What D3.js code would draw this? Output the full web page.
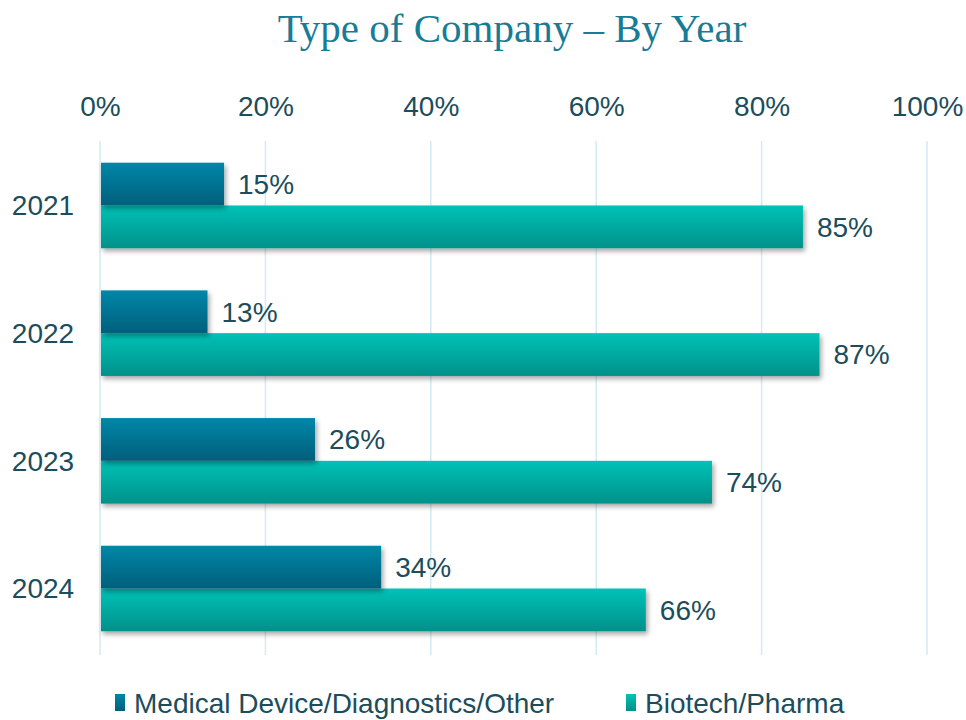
<!DOCTYPE html>
<html>
<head>
<meta charset="utf-8">
<script src="https://cdn.jsdelivr.net/npm/d3@7"></script>
<style>
  body { margin: 0; background: #fff; }
  text { font-family: "Liberation Sans", Arial, sans-serif; fill: #1b4d5c; }
</style>
</head>
<body>
<div class="chart"></div>
<script>
// data
const years = ['2021', '2022', '2023', '2024'];
const seriesNames = ['Medical Device/Diagnostics/Other', 'Biotech/Pharma'];
const medical = [15, 13, 26, 34];
const biotech = [85, 87, 74, 66];
const xTicks = [0, 20, 40, 60, 80, 100];

const width = 966;
const height = 720;
const margin = { top: 141, right: 39, bottom: 67, left: 100 };

const svg = d3.select('.chart').append('svg')
  .attr('width', width).attr('height', height);

const defs = svg.append('defs');
function grad(id, top, bottom) {
  const g = defs.append('linearGradient').attr('id', id)
    .attr('x1', 0).attr('y1', 0).attr('x2', 0).attr('y2', 1);
  g.append('stop').attr('offset', '0%').attr('stop-color', top);
  g.append('stop').attr('offset', '100%').attr('stop-color', bottom);
}
grad('gMed', '#0087a8', '#005f7b');
grad('gBio', '#00c2b6', '#00918a');
const shadow = defs.append('filter').attr('id', 'shadow')
  .attr('x', '-5%').attr('y', '-20%').attr('width', '115%').attr('height', '150%');
shadow.append('feDropShadow').attr('dx', 2).attr('dy', 3).attr('stdDeviation', 2.5)
  .attr('flood-color', '#000').attr('flood-opacity', 0.35);

const x = d3.scaleLinear().domain([0, 100]).range([margin.left, width - margin.right]);
const y = d3.scaleBand().domain(years)
  .range([margin.top, height - margin.bottom])
  .paddingInner(0.33).paddingOuter(0.17);
const sub = d3.scaleBand().domain(seriesNames).range([0, y.bandwidth()]);

// title
svg.append('text')
  .attr('x', 512).attr('y', 42)
  .attr('text-anchor', 'middle')
  .style('font-family', '"Liberation Serif", "Times New Roman", serif')
  .style('font-size', '41px')
  .style('fill', '#177c96')
  .text('Type of Company – By Year');

// gridlines
svg.append('g').selectAll('line').data(xTicks).enter().append('line')
  .attr('x1', d => x(d)).attr('x2', d => x(d))
  .attr('y1', margin.top).attr('y2', height - margin.bottom + 2)
  .attr('stroke', '#d3ebf4').attr('stroke-width', 1.5);

// top axis
const xAxis = d3.axisTop(x).tickValues(xTicks).tickFormat(d => d + '%').tickSize(0).tickPadding(0);
const xAxisDraw = svg.append('g').attr('transform', 'translate(0,116)').call(xAxis);
xAxisDraw.select('.domain').remove();
xAxisDraw.selectAll('text').style('font-size', '28px').attr('dy', 0);

// left axis
const yAxis = d3.axisLeft(y).tickSize(0).tickPadding(0);
const yAxisDraw = svg.append('g').attr('transform', 'translate(43,0)').call(yAxis);
yAxisDraw.select('.domain').remove();
yAxisDraw.selectAll('text').style('font-size', '28px').attr('text-anchor', 'middle').attr('dy', '0.35em');

const rows = [
  { name: seriesNames[0], values: medical, fill: 'url(#gMed)' },
  { name: seriesNames[1], values: biotech, fill: 'url(#gBio)' }
];

// biotech drawn first so the medical shadow sits on top of it
[rows[1], rows[0]].forEach(s => {
  const g = svg.append('g');
  g.selectAll('rect').data(s.values).enter().append('rect')
    .attr('x', x(0) + 1)
    .attr('y', (d, i) => y(years[i]) + sub(s.name))
    .attr('width', d => x(d) - x(0) - 1)
    .attr('height', sub.bandwidth())
    .attr('fill', s.fill)
    .attr('filter', 'url(#shadow)');
  g.selectAll('text').data(s.values).enter().append('text')
    .attr('x', d => x(d) + 14)
    .attr('y', (d, i) => y(years[i]) + sub(s.name) + sub.bandwidth() / 2)
    .attr('dy', '0.35em')
    .style('font-size', '28px')
    .text(d => d + '%');
});

// legend
const legend = svg.append('g').attr('transform', 'translate(0,703)');
const legendX = [115, 626];
rows.forEach((s, i) => {
  legend.append('rect')
    .attr('x', legendX[i]).attr('y', -9).attr('width', 10).attr('height', 17)
    .attr('fill', s.fill);
  legend.append('text')
    .attr('x', legendX[i] + 19).attr('y', 0).attr('dy', '0.35em')
    .style('font-size', '28px')
    .text(s.name);
});
</script>
</body>
</html>
